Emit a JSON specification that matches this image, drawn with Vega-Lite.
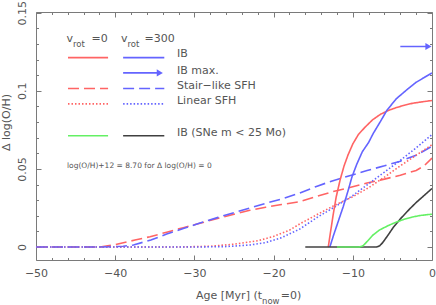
{
  "$schema": "https://vega.github.io/schema/vega-lite/v6.json",
  "width": 396,
  "height": 248,
  "autosize": {"type": "none"},
  "padding": {"left": 36, "top": 12, "right": 4, "bottom": 45},
  "background": "white",
  "config": {
    "view": {"stroke": "#7a7a7a", "strokeWidth": 1},
    "font": "DejaVu Sans",
    "axis": {"labelColor": "#555555", "tickColor": "#7a7a7a", "titleColor": "#555555", "labelFont": "DejaVu Sans", "titleFont": "DejaVu Sans", "titleFontWeight": "normal", "labelFontSize": 11, "titleFontSize": 11, "grid": false, "domain": false, "tickWidth": 1}
  },
  "datasets": {
    "curves": [
      {"curve": "Stair-like SFH, vrot=0", "sfh": "Stair", "part": "data", "x": -50, "y": 0},
      {"curve": "Stair-like SFH, vrot=0", "sfh": "Stair", "part": "data", "x": -42, "y": 0},
      {"curve": "Stair-like SFH, vrot=0", "sfh": "Stair", "part": "data", "x": -40, "y": 0.0015},
      {"curve": "Stair-like SFH, vrot=0", "sfh": "Stair", "part": "data", "x": -37.5, "y": 0.0045},
      {"curve": "Stair-like SFH, vrot=0", "sfh": "Stair", "part": "data", "x": -35.6, "y": 0.0066},
      {"curve": "Stair-like SFH, vrot=0", "sfh": "Stair", "part": "data", "x": -33.5, "y": 0.0095},
      {"curve": "Stair-like SFH, vrot=0", "sfh": "Stair", "part": "data", "x": -31.4, "y": 0.0124},
      {"curve": "Stair-like SFH, vrot=0", "sfh": "Stair", "part": "data", "x": -29.3, "y": 0.0152},
      {"curve": "Stair-like SFH, vrot=0", "sfh": "Stair", "part": "data", "x": -27.2, "y": 0.0182},
      {"curve": "Stair-like SFH, vrot=0", "sfh": "Stair", "part": "data", "x": -25, "y": 0.021},
      {"curve": "Stair-like SFH, vrot=0", "sfh": "Stair", "part": "data", "x": -23, "y": 0.0235},
      {"curve": "Stair-like SFH, vrot=0", "sfh": "Stair", "part": "data", "x": -21, "y": 0.0255},
      {"curve": "Stair-like SFH, vrot=0", "sfh": "Stair", "part": "data", "x": -19, "y": 0.0272},
      {"curve": "Stair-like SFH, vrot=0", "sfh": "Stair", "part": "data", "x": -16.7, "y": 0.029},
      {"curve": "Stair-like SFH, vrot=0", "sfh": "Stair", "part": "data", "x": -14.5, "y": 0.0325},
      {"curve": "Stair-like SFH, vrot=0", "sfh": "Stair", "part": "data", "x": -12.5, "y": 0.0355},
      {"curve": "Stair-like SFH, vrot=0", "sfh": "Stair", "part": "data", "x": -10.5, "y": 0.038},
      {"curve": "Stair-like SFH, vrot=0", "sfh": "Stair", "part": "data", "x": -8.2, "y": 0.041},
      {"curve": "Stair-like SFH, vrot=0", "sfh": "Stair", "part": "data", "x": -6, "y": 0.0435},
      {"curve": "Stair-like SFH, vrot=0", "sfh": "Stair", "part": "data", "x": -4, "y": 0.046},
      {"curve": "Stair-like SFH, vrot=0", "sfh": "Stair", "part": "data", "x": -2, "y": 0.049},
      {"curve": "Stair-like SFH, vrot=0", "sfh": "Stair", "part": "data", "x": -1, "y": 0.052},
      {"curve": "Stair-like SFH, vrot=0", "sfh": "Stair", "part": "data", "x": 0, "y": 0.057},

      {"curve": "Stair-like SFH, vrot=300", "sfh": "Stair", "part": "data", "x": -50, "y": 0},
      {"curve": "Stair-like SFH, vrot=300", "sfh": "Stair", "part": "data", "x": -42, "y": 0},
      {"curve": "Stair-like SFH, vrot=300", "sfh": "Stair", "part": "data", "x": -39, "y": 0.0005},
      {"curve": "Stair-like SFH, vrot=300", "sfh": "Stair", "part": "data", "x": -37.7, "y": 0.0013},
      {"curve": "Stair-like SFH, vrot=300", "sfh": "Stair", "part": "data", "x": -35.5, "y": 0.0045},
      {"curve": "Stair-like SFH, vrot=300", "sfh": "Stair", "part": "data", "x": -33.5, "y": 0.0083},
      {"curve": "Stair-like SFH, vrot=300", "sfh": "Stair", "part": "data", "x": -31.4, "y": 0.0118},
      {"curve": "Stair-like SFH, vrot=300", "sfh": "Stair", "part": "data", "x": -29.3, "y": 0.0154},
      {"curve": "Stair-like SFH, vrot=300", "sfh": "Stair", "part": "data", "x": -27, "y": 0.019},
      {"curve": "Stair-like SFH, vrot=300", "sfh": "Stair", "part": "data", "x": -25, "y": 0.022},
      {"curve": "Stair-like SFH, vrot=300", "sfh": "Stair", "part": "data", "x": -23, "y": 0.025},
      {"curve": "Stair-like SFH, vrot=300", "sfh": "Stair", "part": "data", "x": -21, "y": 0.028},
      {"curve": "Stair-like SFH, vrot=300", "sfh": "Stair", "part": "data", "x": -18.8, "y": 0.031},
      {"curve": "Stair-like SFH, vrot=300", "sfh": "Stair", "part": "data", "x": -16.7, "y": 0.0346},
      {"curve": "Stair-like SFH, vrot=300", "sfh": "Stair", "part": "data", "x": -14.5, "y": 0.039},
      {"curve": "Stair-like SFH, vrot=300", "sfh": "Stair", "part": "data", "x": -12.5, "y": 0.0425},
      {"curve": "Stair-like SFH, vrot=300", "sfh": "Stair", "part": "data", "x": -10.3, "y": 0.0458},
      {"curve": "Stair-like SFH, vrot=300", "sfh": "Stair", "part": "data", "x": -8.2, "y": 0.049},
      {"curve": "Stair-like SFH, vrot=300", "sfh": "Stair", "part": "data", "x": -6, "y": 0.052},
      {"curve": "Stair-like SFH, vrot=300", "sfh": "Stair", "part": "data", "x": -4, "y": 0.055},
      {"curve": "Stair-like SFH, vrot=300", "sfh": "Stair", "part": "data", "x": -2, "y": 0.0588},
      {"curve": "Stair-like SFH, vrot=300", "sfh": "Stair", "part": "data", "x": 0, "y": 0.0645},

      {"curve": "Linear SFH, vrot=0", "sfh": "Linear", "part": "data", "x": -50, "y": 0},
      {"curve": "Linear SFH, vrot=0", "sfh": "Linear", "part": "data", "x": -32, "y": 0},
      {"curve": "Linear SFH, vrot=0", "sfh": "Linear", "part": "data", "x": -28, "y": 0.0005},
      {"curve": "Linear SFH, vrot=0", "sfh": "Linear", "part": "data", "x": -25, "y": 0.0018},
      {"curve": "Linear SFH, vrot=0", "sfh": "Linear", "part": "data", "x": -22, "y": 0.004},
      {"curve": "Linear SFH, vrot=0", "sfh": "Linear", "part": "data", "x": -20, "y": 0.0068},
      {"curve": "Linear SFH, vrot=0", "sfh": "Linear", "part": "data", "x": -18, "y": 0.0108},
      {"curve": "Linear SFH, vrot=0", "sfh": "Linear", "part": "data", "x": -16.7, "y": 0.0148},
      {"curve": "Linear SFH, vrot=0", "sfh": "Linear", "part": "data", "x": -14.5, "y": 0.0208},
      {"curve": "Linear SFH, vrot=0", "sfh": "Linear", "part": "data", "x": -12.5, "y": 0.0262},
      {"curve": "Linear SFH, vrot=0", "sfh": "Linear", "part": "data", "x": -10, "y": 0.0322},
      {"curve": "Linear SFH, vrot=0", "sfh": "Linear", "part": "data", "x": -8, "y": 0.038},
      {"curve": "Linear SFH, vrot=0", "sfh": "Linear", "part": "data", "x": -6, "y": 0.0448},
      {"curve": "Linear SFH, vrot=0", "sfh": "Linear", "part": "data", "x": -4, "y": 0.052},
      {"curve": "Linear SFH, vrot=0", "sfh": "Linear", "part": "data", "x": -2, "y": 0.0588},
      {"curve": "Linear SFH, vrot=0", "sfh": "Linear", "part": "data", "x": 0, "y": 0.0655},

      {"curve": "Linear SFH, vrot=300", "sfh": "Linear", "part": "data", "x": -50, "y": 0},
      {"curve": "Linear SFH, vrot=300", "sfh": "Linear", "part": "data", "x": -30, "y": 0},
      {"curve": "Linear SFH, vrot=300", "sfh": "Linear", "part": "data", "x": -26, "y": 0.0003},
      {"curve": "Linear SFH, vrot=300", "sfh": "Linear", "part": "data", "x": -23, "y": 0.0013},
      {"curve": "Linear SFH, vrot=300", "sfh": "Linear", "part": "data", "x": -21, "y": 0.0028},
      {"curve": "Linear SFH, vrot=300", "sfh": "Linear", "part": "data", "x": -19, "y": 0.006},
      {"curve": "Linear SFH, vrot=300", "sfh": "Linear", "part": "data", "x": -16.7, "y": 0.0115},
      {"curve": "Linear SFH, vrot=300", "sfh": "Linear", "part": "data", "x": -14.5, "y": 0.019},
      {"curve": "Linear SFH, vrot=300", "sfh": "Linear", "part": "data", "x": -12.5, "y": 0.025},
      {"curve": "Linear SFH, vrot=300", "sfh": "Linear", "part": "data", "x": -10, "y": 0.033},
      {"curve": "Linear SFH, vrot=300", "sfh": "Linear", "part": "data", "x": -8, "y": 0.0405},
      {"curve": "Linear SFH, vrot=300", "sfh": "Linear", "part": "data", "x": -6, "y": 0.048},
      {"curve": "Linear SFH, vrot=300", "sfh": "Linear", "part": "data", "x": -4, "y": 0.0555},
      {"curve": "Linear SFH, vrot=300", "sfh": "Linear", "part": "data", "x": -2, "y": 0.0635},
      {"curve": "Linear SFH, vrot=300", "sfh": "Linear", "part": "data", "x": 0, "y": 0.072},

      {"curve": "IB, vrot=0", "sfh": "IB", "part": "data", "x": -13.1, "y": 0},
      {"curve": "IB, vrot=0", "sfh": "IB", "part": "data", "x": -12.8, "y": 0.01},
      {"curve": "IB, vrot=0", "sfh": "IB", "part": "data", "x": -12.5, "y": 0.02},
      {"curve": "IB, vrot=0", "sfh": "IB", "part": "data", "x": -12.1, "y": 0.032},
      {"curve": "IB, vrot=0", "sfh": "IB", "part": "data", "x": -11.6, "y": 0.043},
      {"curve": "IB, vrot=0", "sfh": "IB", "part": "data", "x": -11.1, "y": 0.052},
      {"curve": "IB, vrot=0", "sfh": "IB", "part": "data", "x": -10.6, "y": 0.059},
      {"curve": "IB, vrot=0", "sfh": "IB", "part": "data", "x": -10, "y": 0.066},
      {"curve": "IB, vrot=0", "sfh": "IB", "part": "data", "x": -9.3, "y": 0.072},
      {"curve": "IB, vrot=0", "sfh": "IB", "part": "data", "x": -8.5, "y": 0.0765},
      {"curve": "IB, vrot=0", "sfh": "IB", "part": "data", "x": -7.5, "y": 0.0815},
      {"curve": "IB, vrot=0", "sfh": "IB", "part": "data", "x": -6.5, "y": 0.085},
      {"curve": "IB, vrot=0", "sfh": "IB", "part": "data", "x": -5.5, "y": 0.0875},
      {"curve": "IB, vrot=0", "sfh": "IB", "part": "data", "x": -4.5, "y": 0.0893},
      {"curve": "IB, vrot=0", "sfh": "IB", "part": "data", "x": -3.5, "y": 0.0908},
      {"curve": "IB, vrot=0", "sfh": "IB", "part": "data", "x": -2.5, "y": 0.092},
      {"curve": "IB, vrot=0", "sfh": "IB", "part": "data", "x": -1.5, "y": 0.0928},
      {"curve": "IB, vrot=0", "sfh": "IB", "part": "data", "x": -0.5, "y": 0.0935},
      {"curve": "IB, vrot=0", "sfh": "IB", "part": "data", "x": 0, "y": 0.0938},

      {"curve": "IB, vrot=300", "sfh": "IB", "part": "data", "x": -12.9, "y": 0},
      {"curve": "IB, vrot=300", "sfh": "IB", "part": "data", "x": -12.4, "y": 0.008},
      {"curve": "IB, vrot=300", "sfh": "IB", "part": "data", "x": -11.8, "y": 0.017},
      {"curve": "IB, vrot=300", "sfh": "IB", "part": "data", "x": -11.2, "y": 0.026},
      {"curve": "IB, vrot=300", "sfh": "IB", "part": "data", "x": -10.6, "y": 0.036},
      {"curve": "IB, vrot=300", "sfh": "IB", "part": "data", "x": -10.1, "y": 0.045},
      {"curve": "IB, vrot=300", "sfh": "IB", "part": "data", "x": -9.5, "y": 0.053},
      {"curve": "IB, vrot=300", "sfh": "IB", "part": "data", "x": -8.8, "y": 0.061},
      {"curve": "IB, vrot=300", "sfh": "IB", "part": "data", "x": -8, "y": 0.067},
      {"curve": "IB, vrot=300", "sfh": "IB", "part": "data", "x": -7.4, "y": 0.0729},
      {"curve": "IB, vrot=300", "sfh": "IB", "part": "data", "x": -6.5, "y": 0.0805},
      {"curve": "IB, vrot=300", "sfh": "IB", "part": "data", "x": -5.7, "y": 0.0875},
      {"curve": "IB, vrot=300", "sfh": "IB", "part": "data", "x": -4.5, "y": 0.095},
      {"curve": "IB, vrot=300", "sfh": "IB", "part": "data", "x": -3.2, "y": 0.1006},
      {"curve": "IB, vrot=300", "sfh": "IB", "part": "data", "x": -2, "y": 0.1055},
      {"curve": "IB, vrot=300", "sfh": "IB", "part": "data", "x": -1, "y": 0.1085},
      {"curve": "IB, vrot=300", "sfh": "IB", "part": "data", "x": 0, "y": 0.1115},

      {"curve": "IB (SNe m<25 Mo), vrot=300", "sfh": "IB", "part": "data", "x": -16, "y": 0},
      {"curve": "IB (SNe m<25 Mo), vrot=300", "sfh": "IB", "part": "data", "x": -7, "y": 0},
      {"curve": "IB (SNe m<25 Mo), vrot=300", "sfh": "IB", "part": "data", "x": -6.6, "y": 0.0008},
      {"curve": "IB (SNe m<25 Mo), vrot=300", "sfh": "IB", "part": "data", "x": -6.2, "y": 0.003},
      {"curve": "IB (SNe m<25 Mo), vrot=300", "sfh": "IB", "part": "data", "x": -5.5, "y": 0.008},
      {"curve": "IB (SNe m<25 Mo), vrot=300", "sfh": "IB", "part": "data", "x": -4.9, "y": 0.0125},
      {"curve": "IB (SNe m<25 Mo), vrot=300", "sfh": "IB", "part": "data", "x": -4, "y": 0.018},
      {"curve": "IB (SNe m<25 Mo), vrot=300", "sfh": "IB", "part": "data", "x": -2.8, "y": 0.0245},
      {"curve": "IB (SNe m<25 Mo), vrot=300", "sfh": "IB", "part": "data", "x": -2, "y": 0.0285},
      {"curve": "IB (SNe m<25 Mo), vrot=300", "sfh": "IB", "part": "data", "x": -1, "y": 0.033},
      {"curve": "IB (SNe m<25 Mo), vrot=300", "sfh": "IB", "part": "data", "x": 0, "y": 0.0375},

      {"curve": "IB (SNe m<25 Mo), vrot=0", "sfh": "IB", "part": "data", "x": -12, "y": 0},
      {"curve": "IB (SNe m<25 Mo), vrot=0", "sfh": "IB", "part": "data", "x": -9.2, "y": 0},
      {"curve": "IB (SNe m<25 Mo), vrot=0", "sfh": "IB", "part": "data", "x": -8.7, "y": 0.0008},
      {"curve": "IB (SNe m<25 Mo), vrot=0", "sfh": "IB", "part": "data", "x": -8.2, "y": 0.0035},
      {"curve": "IB (SNe m<25 Mo), vrot=0", "sfh": "IB", "part": "data", "x": -7.5, "y": 0.0075},
      {"curve": "IB (SNe m<25 Mo), vrot=0", "sfh": "IB", "part": "data", "x": -6.6, "y": 0.011},
      {"curve": "IB (SNe m<25 Mo), vrot=0", "sfh": "IB", "part": "data", "x": -5.5, "y": 0.0138},
      {"curve": "IB (SNe m<25 Mo), vrot=0", "sfh": "IB", "part": "data", "x": -4.5, "y": 0.016},
      {"curve": "IB (SNe m<25 Mo), vrot=0", "sfh": "IB", "part": "data", "x": -3.5, "y": 0.0178},
      {"curve": "IB (SNe m<25 Mo), vrot=0", "sfh": "IB", "part": "data", "x": -2.5, "y": 0.0192},
      {"curve": "IB (SNe m<25 Mo), vrot=0", "sfh": "IB", "part": "data", "x": -1.5, "y": 0.0202},
      {"curve": "IB (SNe m<25 Mo), vrot=0", "sfh": "IB", "part": "data", "x": -0.5, "y": 0.0208},
      {"curve": "IB (SNe m<25 Mo), vrot=0", "sfh": "IB", "part": "data", "x": 0, "y": 0.021},

      {"curve": "IB max., vrot=300", "sfh": "IB", "part": "data", "x": -4, "y": 0.1284},
      {"curve": "IB max., vrot=300", "sfh": "IB", "part": "data", "x": -0.5, "y": 0.1284},

      {"curve": "IB, vrot=0", "sfh": "IB", "part": "legend", "x": -45.96, "y": 0.1213},
      {"curve": "IB, vrot=0", "sfh": "IB", "part": "legend", "x": -40.9, "y": 0.1213},
      {"curve": "IB, vrot=300", "sfh": "IB", "part": "legend", "x": -39.0, "y": 0.1213},
      {"curve": "IB, vrot=300", "sfh": "IB", "part": "legend", "x": -33.8, "y": 0.1213},
      {"curve": "IB max., vrot=300", "sfh": "IB", "part": "legend", "x": -39.0, "y": 0.1115},
      {"curve": "IB max., vrot=300", "sfh": "IB", "part": "legend", "x": -34.6, "y": 0.1115},
      {"curve": "Stair-like SFH, vrot=0", "sfh": "Stair", "part": "legend", "x": -45.96, "y": 0.1015},
      {"curve": "Stair-like SFH, vrot=0", "sfh": "Stair", "part": "legend", "x": -40.9, "y": 0.1015},
      {"curve": "Stair-like SFH, vrot=300", "sfh": "Stair", "part": "legend", "x": -39.0, "y": 0.1015},
      {"curve": "Stair-like SFH, vrot=300", "sfh": "Stair", "part": "legend", "x": -33.8, "y": 0.1015},
      {"curve": "Linear SFH, vrot=0", "sfh": "Linear", "part": "legend", "x": -45.96, "y": 0.0917},
      {"curve": "Linear SFH, vrot=0", "sfh": "Linear", "part": "legend", "x": -40.9, "y": 0.0917},
      {"curve": "Linear SFH, vrot=300", "sfh": "Linear", "part": "legend", "x": -39.0, "y": 0.0917},
      {"curve": "Linear SFH, vrot=300", "sfh": "Linear", "part": "legend", "x": -33.8, "y": 0.0917},
      {"curve": "IB (SNe m<25 Mo), vrot=0", "sfh": "IB", "part": "legend", "x": -45.96, "y": 0.0713},
      {"curve": "IB (SNe m<25 Mo), vrot=0", "sfh": "IB", "part": "legend", "x": -40.9, "y": 0.0713},
      {"curve": "IB (SNe m<25 Mo), vrot=300", "sfh": "IB", "part": "legend", "x": -39.0, "y": 0.0713},
      {"curve": "IB (SNe m<25 Mo), vrot=300", "sfh": "IB", "part": "legend", "x": -33.8, "y": 0.0713}
    ],
    "heads": [
      {"part": "data", "x": -0.45, "y": 0.1284},
      {"part": "legend", "x": -34.37, "y": 0.1115}
    ],
    "labels": [
      {"kind": "mainR", "text": "v", "x": -45.33, "y": 0.1311},
      {"kind": "sub", "text": "rot", "x": -45.33, "y": 0.1282},
      {"kind": "mainL", "text": "=0", "x": -43.0, "y": 0.1311},
      {"kind": "mainR", "text": "v", "x": -38.45, "y": 0.1311},
      {"kind": "sub", "text": "rot", "x": -38.45, "y": 0.1282},
      {"kind": "mainL", "text": "=300", "x": -36.3, "y": 0.1311},
      {"kind": "mainR", "text": "Age [Myr] (t", "x": -21.46, "y": -0.0333},
      {"kind": "sub", "text": "now", "x": -21.46, "y": -0.0362},
      {"kind": "mainL", "text": "=0)", "x": -19.1, "y": -0.0333},
      {"kind": "legend", "text": "IB", "x": -32.2, "y": 0.1215},
      {"kind": "legend", "text": "IB max.", "x": -32.2, "y": 0.1109},
      {"kind": "legend", "text": "Stair−like SFH", "x": -32.2, "y": 0.1013},
      {"kind": "legend", "text": "Linear SFH", "x": -32.2, "y": 0.0917},
      {"kind": "legend", "text": "IB (SNe m < 25 Mo)", "x": -32.2, "y": 0.0713},
      {"kind": "note", "text": "log(O/H)+12 = 8.70 for Δ log(O/H) = 0", "x": -46.09, "y": 0.0504}
    ]
  },
  "resolve": {"axis": {"x": "independent", "y": "independent"}},
  "layer": [
    {
      "data": {"name": "curves"},
      "mark": {"type": "line", "strokeWidth": 1.6, "clip": true},
      "encoding": {
        "x": {"field": "x", "type": "quantitative", "scale": {"domain": [-50, 0], "nice": false, "zero": false},
          "axis": {"orient": "bottom", "title": null, "values": [-50, -48, -46, -44, -42, -40, -38, -36, -34, -32, -30, -28, -26, -24, -22, -20, -18, -16, -14, -12, -10, -8, -6, -4, -2, 0],
            "labelExpr": "datum.value % 10 === 0 ? format(datum.value, 'd') : ''",
            "tickSize": {"condition": {"test": "datum.value % 10 === 0", "value": -5}, "value": -2.5},
            "labelPadding": 12, "labelOverlap": false, "labelFlush": false}},
        "y": {"field": "y", "type": "quantitative", "scale": {"domain": [-0.0083, 0.1505], "nice": false, "zero": false},
          "axis": {"orient": "left", "title": "Δ log(O/H)", "values": [0, 0.01, 0.02, 0.03, 0.04, 0.05, 0.06, 0.07, 0.08, 0.09, 0.1, 0.11, 0.12, 0.13, 0.14, 0.15],
            "labelExpr": "round(datum.value * 100) % 5 === 0 ? format(datum.value, '~g') : ''",
            "tickSize": {"condition": {"test": "round(datum.value * 100) % 5 === 0", "value": -5}, "value": -2.5},
            "labelAngle": -90, "labelAlign": "center", "labelBaseline": "bottom",
            "labelPadding": 14, "labelOverlap": false, "labelFlush": false, "titlePadding": 2,
            "titleAlign": "center", "titleBaseline": "bottom", "titleY": 110,
            "encode": {"labels": {"update": {"angle": {"value": -90}, "align": {"value": "center"}, "baseline": {"value": "bottom"}}}}}},
        "color": {"field": "curve", "type": "nominal", "legend": null,
          "scale": {"domain": ["IB, vrot=0", "IB, vrot=300", "IB max., vrot=300", "Stair-like SFH, vrot=0", "Stair-like SFH, vrot=300", "Linear SFH, vrot=0", "Linear SFH, vrot=300", "IB (SNe m<25 Mo), vrot=0", "IB (SNe m<25 Mo), vrot=300"],
            "range": ["#ff6464", "#6464ff", "#6464ff", "#ff6464", "#6464ff", "#ff6464", "#6464ff", "#64f064", "#404040"]}},
        "strokeDash": {"field": "sfh", "type": "nominal", "legend": null,
          "scale": {"domain": ["IB", "Stair", "Linear"], "range": [[1, 0], [11, 5], [1.5, 2]]}},
        "detail": {"field": "part"}
      }
    },
    {
      "data": {"name": "heads"},
      "mark": {"type": "point", "shape": "triangle-right", "filled": true, "size": 50, "color": "#6464ff", "opacity": 1},
      "encoding": {
        "x": {"field": "x", "type": "quantitative", "scale": {"domain": [-50, 0], "nice": false, "zero": false},
          "axis": {"orient": "top", "title": null, "labels": false, "values": [-50, -48, -46, -44, -42, -40, -38, -36, -34, -32, -30, -28, -26, -24, -22, -20, -18, -16, -14, -12, -10, -8, -6, -4, -2, 0],
            "tickSize": {"condition": {"test": "datum.value % 10 === 0", "value": -5}, "value": -2.5}}},
        "y": {"field": "y", "type": "quantitative", "scale": {"domain": [-0.0083, 0.1505], "nice": false, "zero": false},
          "axis": {"orient": "right", "title": null, "labels": false, "values": [0, 0.01, 0.02, 0.03, 0.04, 0.05, 0.06, 0.07, 0.08, 0.09, 0.1, 0.11, 0.12, 0.13, 0.14, 0.15],
            "tickSize": {"condition": {"test": "round(datum.value * 100) % 5 === 0", "value": -5}, "value": -2.5}}}
      }
    },
    {
      "data": {"name": "labels"},
      "transform": [{"filter": "datum.kind === 'legend'"}],
      "mark": {"type": "text", "align": "left", "baseline": "alphabetic", "fontSize": 11, "color": "#555555", "font": "DejaVu Sans"},
      "encoding": {
        "x": {"field": "x", "type": "quantitative", "axis": null},
        "y": {"field": "y", "type": "quantitative", "axis": null},
        "text": {"field": "text"}
      }
    },
    {
      "data": {"name": "labels"},
      "transform": [{"filter": "datum.kind === 'mainR'"}],
      "mark": {"type": "text", "align": "right", "baseline": "alphabetic", "fontSize": 11, "color": "#555555", "font": "DejaVu Sans"},
      "encoding": {
        "x": {"field": "x", "type": "quantitative", "axis": null},
        "y": {"field": "y", "type": "quantitative", "axis": null},
        "text": {"field": "text"}
      }
    },
    {
      "data": {"name": "labels"},
      "transform": [{"filter": "datum.kind === 'mainL'"}],
      "mark": {"type": "text", "align": "left", "baseline": "alphabetic", "fontSize": 11, "color": "#555555", "font": "DejaVu Sans"},
      "encoding": {
        "x": {"field": "x", "type": "quantitative", "axis": null},
        "y": {"field": "y", "type": "quantitative", "axis": null},
        "text": {"field": "text"}
      }
    },
    {
      "data": {"name": "labels"},
      "transform": [{"filter": "datum.kind === 'sub'"}],
      "mark": {"type": "text", "align": "left", "baseline": "alphabetic", "fontSize": 8.5, "color": "#555555", "font": "DejaVu Sans"},
      "encoding": {
        "x": {"field": "x", "type": "quantitative", "axis": null},
        "y": {"field": "y", "type": "quantitative", "axis": null},
        "text": {"field": "text"}
      }
    },
    {
      "data": {"name": "labels"},
      "transform": [{"filter": "datum.kind === 'note'"}],
      "mark": {"type": "text", "align": "left", "baseline": "alphabetic", "fontSize": 7.5, "color": "#555555", "font": "DejaVu Sans"},
      "encoding": {
        "x": {"field": "x", "type": "quantitative", "axis": null},
        "y": {"field": "y", "type": "quantitative", "axis": null},
        "text": {"field": "text"}
      }
    }
  ]
}
